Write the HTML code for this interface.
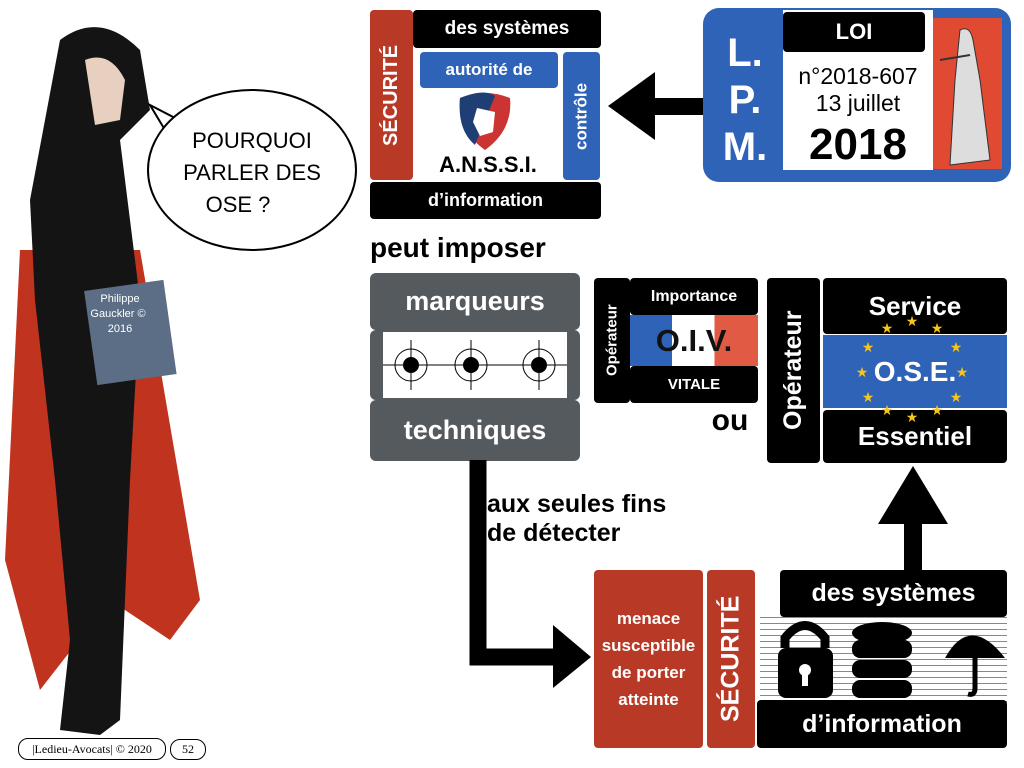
<!DOCTYPE html>
<html><head><meta charset="utf-8"><style>
body{margin:0;width:1024px;height:768px;background:#fff;position:relative;overflow:hidden;font-family:"Liberation Sans",sans-serif}
.a{position:absolute;box-sizing:border-box;display:flex;align-items:center;justify-content:center;font-weight:bold;color:#fff;text-align:center}
.k{background:#000;border-radius:4px}
.r{background:#b83a26;border-radius:4px}
.b{background:#2f63b8;border-radius:4px}
.g{background:#555a5e;border-radius:6px}
.v{writing-mode:vertical-rl;transform:rotate(180deg)}
</style></head><body>
<!-- character -->
<svg style="position:absolute;left:0;top:0" width="360" height="768">
<path d="M20,250 L5,560 L40,690 L110,600 L170,640 L200,600 L140,250 Z" fill="#c0331f"/>
<path d="M60,40 Q100,10 140,50 L150,110 L120,140 L140,300 L130,480 L120,720 L100,735 L60,730 L70,640 L55,480 L35,300 L30,200 L45,120 Z" fill="#141414"/>
<path d="M85,60 Q110,50 125,80 L120,120 L95,125 Z" fill="#e8d0c0"/>
<rect x="90" y="285" width="80" height="95" fill="#5c6e86" transform="rotate(-8 130 330)"/>
<text x="120" y="302" font-size="11" fill="#fff" text-anchor="middle" font-family="Liberation Sans">Philippe</text>
<text x="118" y="317" font-size="11" fill="#fff" text-anchor="middle" font-family="Liberation Sans">Gauckler ©</text>
<text x="120" y="332" font-size="11" fill="#fff" text-anchor="middle" font-family="Liberation Sans">2016</text>
<path d="M165,130 L150,105 L175,118Z" fill="#fff" stroke="#000" stroke-width="2"/>
<ellipse cx="252" cy="170" rx="104" ry="80" fill="#fff" stroke="#000" stroke-width="2"/>
<text x="252" y="148" font-size="22" text-anchor="middle" font-family="Liberation Sans">POURQUOI</text>
<text x="252" y="180" font-size="22" text-anchor="middle" font-family="Liberation Sans">PARLER DES</text>
<text x="238" y="212" font-size="22" text-anchor="middle" font-family="Liberation Sans">OSE ?</text>
</svg>
<div class="a" style="left:18px;top:738px;width:148px;height:22px;border:1px solid #000;border-radius:10px;color:#000;font-weight:normal;font-size:12px;font-family:'Liberation Serif',serif">|Ledieu-Avocats| © 2020</div>
<div class="a" style="left:170px;top:739px;width:36px;height:21px;border:1px solid #000;border-radius:10px;color:#000;font-weight:normal;font-size:12px;font-family:'Liberation Serif',serif">52</div>

<!-- ANSSI -->
<div class="a r v" style="left:370px;top:10px;width:43px;height:170px;font-size:20px">SÉCURITÉ</div>
<div class="a k" style="left:413px;top:10px;width:188px;height:38px;font-size:19px">des systèmes</div>
<div class="a b" style="left:420px;top:52px;width:138px;height:36px;font-size:17px">autorité de</div>
<div class="a b v" style="left:563px;top:52px;width:37px;height:128px;font-size:17px">contrôle</div>
<svg style="position:absolute;left:455px;top:90px" width="60" height="62"><path d="M5,8 Q30,-2 55,8 Q58,40 30,60 Q2,40 5,8Z" fill="#c33"/><path d="M5,8 Q30,-2 40,6 L20,55 Q2,40 5,8Z" fill="#1f3f74"/><path d="M22,18 L40,22 L38,42 L25,46 L18,32Z" fill="#fff"/></svg>
<div class="a" style="left:418px;top:150px;width:140px;height:30px;color:#000;font-size:22px">A.N.S.S.I.</div>
<div class="a k" style="left:370px;top:182px;width:231px;height:37px;font-size:18px">d’information</div>
<!-- left arrow -->
<svg style="position:absolute;left:605px;top:70px" width="100" height="72"><rect x="44" y="28" width="56" height="17" fill="#000"/><polygon points="3,36 50,2 50,70" fill="#000"/></svg>
<!-- LPM -->
<div class="a" style="left:703px;top:8px;width:308px;height:174px;background:#2f63b8;border-radius:16px"></div>
<div class="a" style="left:930px;top:18px;width:72px;height:151px;background:#e04a32"></div>
<div class="a" style="left:783px;top:10px;width:150px;height:160px;background:#fff"></div>
<div class="a k" style="left:783px;top:12px;width:142px;height:40px;font-size:22px">LOI</div>
<div class="a" style="left:783px;top:60px;width:150px;height:60px;color:#000;font-weight:normal;font-size:23px;line-height:27px">n°2018-607<br>13 juillet</div>
<div class="a" style="left:783px;top:120px;width:150px;height:50px;color:#000;font-size:44px">2018</div>
<div class="a" style="left:710px;top:30px;width:70px;height:140px;font-size:40px;line-height:47px">L.<br>P.<br>M.</div>
<svg style="position:absolute;left:935px;top:20px" width="65" height="150"><path d="M25,10 Q35,5 38,20 L45,60 L55,140 L15,145 L20,60Z" fill="#ddd" stroke="#333"/><line x1="5" y1="40" x2="35" y2="35" stroke="#333" stroke-width="2"/></svg>

<div class="a" style="left:370px;top:230px;width:230px;height:36px;color:#000;font-size:28px;justify-content:flex-start">peut imposer</div>

<!-- marqueurs -->
<div class="a g" style="left:370px;top:330px;width:210px;height:70px"></div>
<div class="a" style="left:383px;top:332px;width:184px;height:66px;background:#fff"></div>
<svg style="position:absolute;left:383px;top:332px" width="184" height="66"><line x1="0" y1="33" x2="184" y2="33" stroke="#000"/><g fill="none" stroke="#000"><circle cx="28" cy="33" r="16"/><circle cx="88" cy="33" r="16"/><circle cx="156" cy="33" r="16"/></g><g fill="#000"><circle cx="28" cy="33" r="8"/><circle cx="88" cy="33" r="8"/><circle cx="156" cy="33" r="8"/></g><g stroke="#000"><line x1="28" y1="8" x2="28" y2="58"/><line x1="88" y1="8" x2="88" y2="58"/><line x1="156" y1="8" x2="156" y2="58"/></g></svg>
<div class="a g" style="left:370px;top:273px;width:210px;height:57px;font-size:27px">marqueurs</div>
<div class="a g" style="left:370px;top:400px;width:210px;height:61px;font-size:27px">techniques</div>

<!-- OIV -->
<div class="a k v" style="left:594px;top:278px;width:36px;height:125px;font-size:15px">Opérateur</div>
<div class="a k" style="left:630px;top:278px;width:128px;height:37px;font-size:16px">Importance</div>
<div class="a" style="left:630px;top:315px;width:128px;height:51px;background:linear-gradient(90deg,#2f63b8 33%,#fff 33%,#fff 66%,#e05a44 66%);color:#111;font-size:31px">O.I.V.</div>
<div class="a k" style="left:630px;top:366px;width:128px;height:37px;font-size:15px">VITALE</div>
<div class="a" style="left:700px;top:402px;width:60px;height:38px;color:#000;font-size:30px">ou</div>

<!-- OSE -->
<div class="a k v" style="left:767px;top:278px;width:53px;height:185px;font-size:25px">Opérateur</div>
<div class="a k" style="left:823px;top:278px;width:184px;height:56px;font-size:26px">Service</div>
<div class="a" style="left:823px;top:335px;width:184px;height:73px;background:#2f63b8;font-size:28px">O.S.E.</div>
<div class="a k" style="left:823px;top:410px;width:184px;height:53px;font-size:26px">Essentiel</div>
<svg style="position:absolute;left:852px;top:312px" width="120" height="110"><g fill="#f5c518" font-size="14" text-anchor="middle" font-family="DejaVu Sans">
<text x="60" y="14">★</text><text x="35" y="21">★</text><text x="85" y="21">★</text>
<text x="16" y="40">★</text><text x="104" y="40">★</text>
<text x="10" y="65">★</text><text x="110" y="65">★</text>
<text x="16" y="90">★</text><text x="104" y="90">★</text>
<text x="35" y="103">★</text><text x="85" y="103">★</text><text x="60" y="110">★</text></g></svg>

<!-- up arrow -->
<svg style="position:absolute;left:876px;top:464px" width="74" height="108"><rect x="28" y="50" width="18" height="58" fill="#000"/><polygon points="37,2 72,60 2,60" fill="#000"/></svg>
<!-- elbow arrow -->
<svg style="position:absolute;left:465px;top:460px" width="130" height="230"><path d="M13,0 V197 H100" fill="none" stroke="#000" stroke-width="17"/><polygon points="88,165 126,197 88,228" fill="#000"/></svg>
<div class="a" style="left:487px;top:488px;width:240px;height:62px;color:#000;font-size:25px;line-height:29px;justify-content:flex-start;text-align:left">aux seules fins<br>de détecter</div>

<!-- bottom -->
<div class="a r" style="left:594px;top:570px;width:109px;height:178px;font-size:17px;line-height:27px">menace<br>susceptible<br>de porter<br>atteinte</div>
<div class="a r v" style="left:707px;top:570px;width:48px;height:178px;font-size:25px">SÉCURITÉ</div>
<div class="a" style="left:760px;top:616px;width:247px;height:86px;background:repeating-linear-gradient(0deg,#888 0 1px,#fff 1px 6px)"></div>
<svg style="position:absolute;left:770px;top:618px" width="235" height="82"><path d="M15,30 V20 Q35,-5 55,20 V30" fill="none" stroke="#000" stroke-width="9"/><rect x="8" y="30" width="55" height="50" rx="8" fill="#000"/><circle cx="35" cy="52" r="6" fill="#fff"/><rect x="32" y="52" width="6" height="16" fill="#fff"/><ellipse cx="112" cy="15" rx="30" ry="11" fill="#000"/><rect x="82" y="22" width="60" height="18" rx="8" fill="#000"/><rect x="82" y="42" width="60" height="18" rx="8" fill="#000"/><rect x="82" y="62" width="60" height="18" rx="8" fill="#000"/><path d="M175,40 Q200,-5 235,40Z" fill="#000"/><path d="M205,30 V70 Q205,78 198,76" fill="none" stroke="#000" stroke-width="5"/></svg>
<div class="a k" style="left:780px;top:570px;width:227px;height:47px;font-size:25px">des systèmes</div>
<div class="a k" style="left:757px;top:700px;width:250px;height:48px;font-size:25px">d’information</div>
</body></html>
